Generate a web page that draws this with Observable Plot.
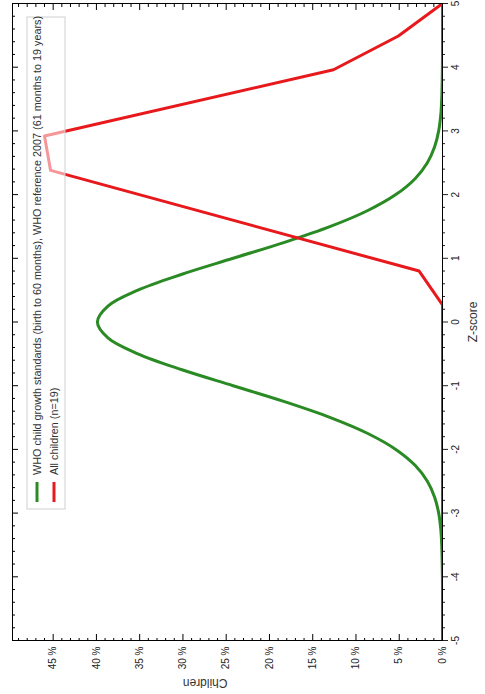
<!DOCTYPE html>
<html>
<head>
<meta charset="utf-8">
<script src="https://cdn.jsdelivr.net/npm/d3@7"></script>
<script src="https://cdn.jsdelivr.net/npm/@observablehq/plot@0.6"></script>
<style>
html, body { margin: 0; padding: 0; width: 485px; height: 694px; overflow: hidden; background: white; }
</style>
</head>
<body>
<div id="chart"></div>
<script>
// Z-score reference curve (WHO)
const whoZ = [-5,-4.75,-4.5,-4.25,-4,-3.75,-3.5,-3.25,-3,-2.75,-2.5,-2.25,-2,-1.75,-1.5,-1.25,-1,-0.75,-0.5,-0.25,0,0.25,0.5,0.75,1,1.25,1.5,1.75,2,2.25,2.5,2.75,3,3.25,3.5,3.75,4,4.25,4.5,4.75,5];
const whoPct = [0,0,0,0,0.01,0.04,0.09,0.2,0.44,0.91,1.75,3.17,5.4,8.63,12.95,18.26,24.2,30.11,35.21,38.67,39.89,38.67,35.21,30.11,24.2,18.26,12.95,8.63,5.4,3.17,1.75,0.91,0.44,0.2,0.09,0.04,0.01,0,0,0,0];
// All children (n=19)
const kidsZ = [-5, 0.27, 0.80, 2.38, 2.92, 3.96, 4.49, 5];
const kidsPct = [0, 0, 2.7, 45.3, 46.0, 12.6, 5.1, 0];

const zMajor = [-5,-4,-3,-2,-1,0,1,2,3,4,5];
const zMinor = d3.range(-50, 51, 2).map(v => v / 10).filter(v => !Number.isInteger(v));
const pctMajor = [0,5,10,15,20,25,30,35,40,45];
const pctMinor = d3.range(0, 50, 1).filter(v => v % 5 !== 0);

const seriesNames = ["WHO child growth standards (birth to 60 months), WHO reference 2007 (61 months to 19 years)", "All children (n=19)"];
const seriesColors = ["#2a8a23", "#e8191c"];

const who = whoZ.map((z, i) => ({z, p: whoPct[i]}));
const kids = kidsZ.map((z, i) => ({z, p: kidsPct[i]}));

const W = 694, H = 485;
const mL = 53, mR = 4, mT = 12, mB = 43;
const pw = W - mL - mR, ph = H - mT - mB;

function legend(index, scales, values, dims) {
  const g = d3.create("svg:g").attr("text-anchor", "start");
  g.append("rect").attr("x", 185).attr("y", 27).attr("width", 492).attr("height", 38)
    .attr("fill", "white").attr("fill-opacity", 0.55).attr("stroke", "#cfcfcf");
  seriesNames.forEach((name, i) => {
    const y = 37 + i * 17;
    g.append("line").attr("x1", 192).attr("x2", 212).attr("y1", y).attr("y2", y)
      .attr("stroke", seriesColors[i]).attr("stroke-width", 3);
    g.append("text").attr("x", 219).attr("y", y).attr("dy", "0.35em")
      .attr("text-anchor", "start")
      .attr("font-size", 10.8).attr("fill", "#333").text(name);
  });
  return g.node();
}

const chart = Plot.plot({
  width: W, height: H,
  marginLeft: mL, marginRight: mR, marginTop: mT, marginBottom: mB,
  style: "max-width:none;position:absolute;left:0;top:0;transform-origin:0 0;transform:translate(0px,694px) rotate(-90deg);background:white;font-family:'Liberation Sans',Arial,sans-serif;font-size:10px;color:#222;",
  x: {domain: [-5, 5], label: null},
  y: {domain: [0, 49.7], label: null},
  marks: [
    Plot.line(who, {x: "z", y: "p", stroke: seriesColors[0], strokeWidth: 3, curve: "catmull-rom", clip: true}),
    Plot.line(kids, {x: "z", y: "p", stroke: seriesColors[1], strokeWidth: 3, clip: true}),
    legend,
    // z-score axis (outward ticks)
    Plot.axisX({anchor: "bottom", ticks: zMajor, tickSize: 6, tickPadding: 3, tickFormat: d => String(d), label: null, fontSize: 10}),
    Plot.axisX({anchor: "bottom", ticks: zMinor, tickSize: 3, tickFormat: () => "", label: null}),
    // inward ticks on top (mirror)
    Plot.tickX(zMajor, {x: d => d, insetBottom: ph - 6, stroke: "#000"}),
    Plot.tickX(zMinor, {x: d => d, insetBottom: ph - 3, stroke: "#000"}),
    // percent axis (inward ticks)
    Plot.axisY({anchor: "left", ticks: pctMajor, tickSize: 0, tickPadding: 6, tickFormat: d => d + " %", label: null, fontSize: 10}),
    Plot.tickY(pctMajor, {y: d => d, insetRight: pw - 7, stroke: "#000"}),
    Plot.tickY(pctMinor, {y: d => d, insetRight: pw - 3, stroke: "#000"}),
    Plot.tickY(pctMajor, {y: d => d, insetLeft: pw - 6, stroke: "#000"}),
    Plot.tickY(pctMinor, {y: d => d, insetLeft: pw - 3, stroke: "#000"}),
    Plot.frame({stroke: "#000"}),
    Plot.text(["Z-score"], {frameAnchor: "bottom", dy: 34, fontSize: 12, fill: "#333"}),
    Plot.text(["Children"], {frameAnchor: "left", dx: -42, rotate: -90, fontSize: 12, fill: "#333"})
  ]
});
document.getElementById("chart").appendChild(chart);
</script>
</body>
</html>
